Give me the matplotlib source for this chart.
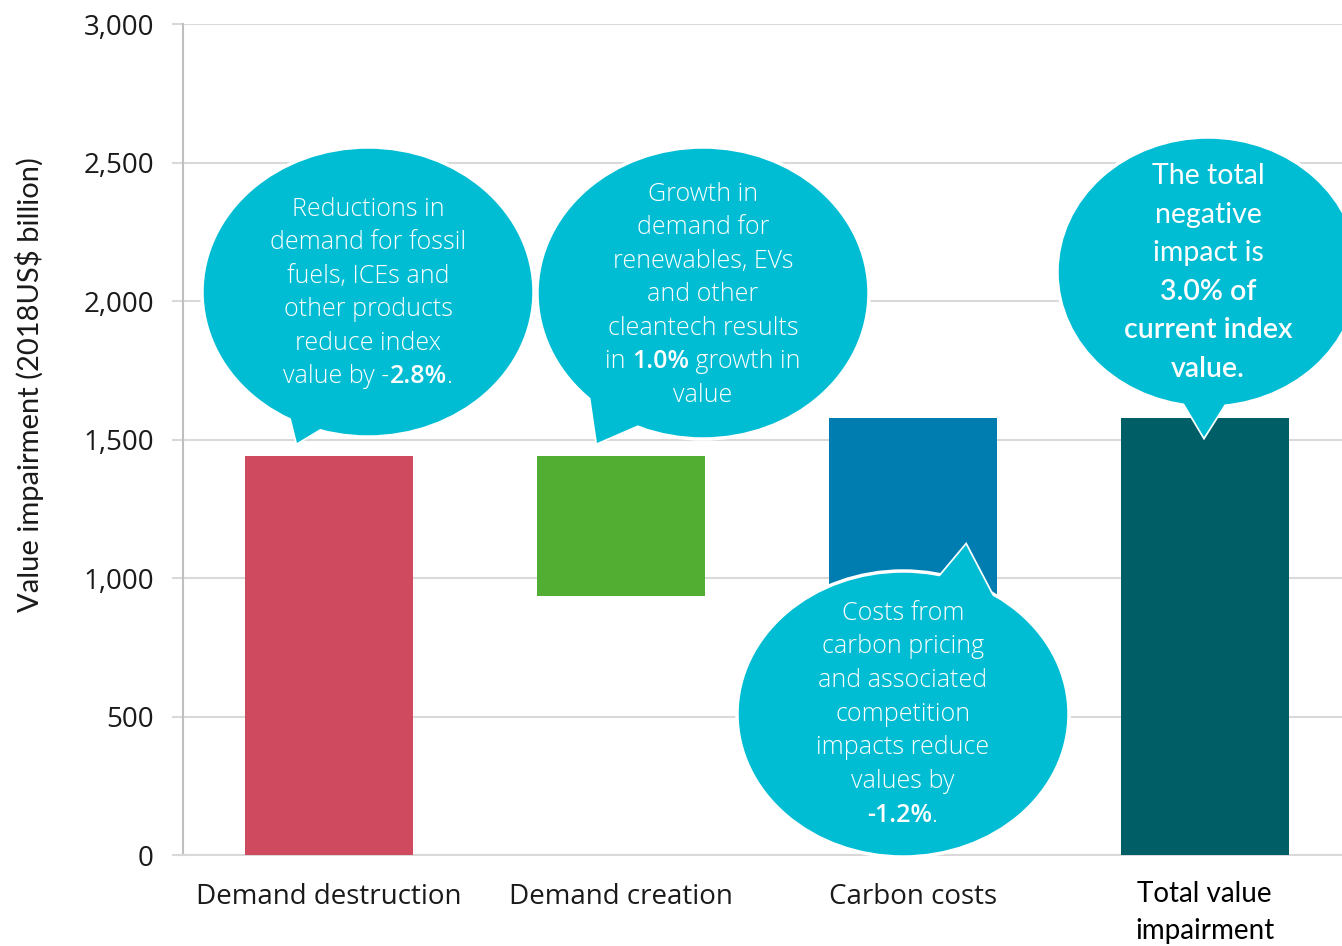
import matplotlib
matplotlib.use("Agg")
import matplotlib.pyplot as plt
from matplotlib.patches import Ellipse, Polygon
from matplotlib.ticker import FuncFormatter

# ── Data ──────────────────────────────────────────────
categories = ["Demand destruction", "Demand creation", "Carbon costs", "Total value\nimpairment"]
bar_bottoms = [0, 935, 935, 0]
bar_tops = [1440, 1440, 1578, 1578]
bar_colors = ["#D04A5F", "#52AE32", "#007DB0", "#005F66"]
y_ticks = [0, 500, 1000, 1500, 2000, 2500, 3000]

BUBBLE = "#00BDD4"
FIG_W, FIG_H = 1342, 946

fig = plt.figure(figsize=(FIG_W / 100, FIG_H / 100), dpi=100)
ax = fig.add_axes([183 / FIG_W, 1 - 855 / FIG_H, (FIG_W - 183) / FIG_W, (855 - 24) / FIG_H])

x = list(range(len(categories)))
heights = [t - b for t, b in zip(bar_tops, bar_bottoms)]
ax.bar(x, heights, bottom=bar_bottoms, width=0.575, color=bar_colors, zorder=3)

ax.set_xlim(-0.5, 3.47)
ax.set_ylim(0, 3000)
ax.set_yticks(y_ticks)
ax.yaxis.set_major_formatter(FuncFormatter(lambda v, _: f"{v:,.0f}"))
ax.grid(axis="y", color="#D9D9D9", linewidth=1.5, zorder=0)
for s in ["top", "right"]:
    ax.spines[s].set_visible(False)
ax.spines["left"].set_color("#BFBFBF")
ax.spines["left"].set_linewidth(1.5)
ax.spines["bottom"].set_color("#D9D9D9")
ax.spines["bottom"].set_linewidth(1.5)
ax.tick_params(axis="y", length=8, width=1.5, color="#D9D9D9", pad=13,
               labelsize=20, labelcolor="#1a1a1a")
ax.tick_params(axis="x", length=0, pad=0)
ax.set_xticks(x)
ax.set_xticklabels([])
for lab in ax.get_yticklabels():
    lab.set_family("Open Sans")

# category labels under the axis
for i, c in enumerate(categories):
    if "\n" in c:
        ax.annotate(c, xy=(i, 0), xycoords=("data", "axes fraction"), xytext=(0, -19),
                    textcoords="offset points", ha="center", va="top", fontsize=20,
                    family="Lato", color="black", linespacing=1.5, annotation_clip=False)
    else:
        ax.annotate(c, xy=(i, 0), xycoords=("data", "axes fraction"), xytext=(0, -20),
                    textcoords="offset points", ha="center", va="top", fontsize=20,
                    family="Open Sans", color="#1a1a1a", annotation_clip=False)

# y label
fig.text(30 / FIG_W, 1 - 385 / FIG_H, "Value impairment (2018US$ billion)", rotation=90,
         ha="center", va="center", fontsize=21, family="Lato", color="#1a1a1a")

# ── Bubbles overlay in pixel coords ─────────────────────
ov = fig.add_axes([0, 0, 1, 1], zorder=5)
ov.set_xlim(0, FIG_W)
ov.set_ylim(FIG_H, 0)
ov.axis("off")
ov.patch.set_alpha(0)


def bubble(cx, cy, w, h, tail):
    ov.add_patch(Polygon(tail, closed=True, fc=BUBBLE, ec="white", lw=2.5, zorder=1))
    ov.add_patch(Ellipse((cx, cy), w, h, fc=BUBBLE, ec="white", lw=2.5, zorder=2))
    ov.add_patch(Polygon(tail, closed=True, fc=BUBBLE, ec="none", lw=0, zorder=3))


bubble(368, 292, 332, 290, [(285, 395), (335, 420), (297, 443)])
bubble(703, 293, 332, 292, [(590, 395), (650, 420), (597, 443)])
bubble(903, 714, 332, 286, [(920, 600), (1000, 610), (966, 545)])
bubble(1208, 272, 302, 270, [(1170, 380), (1240, 380), (1204, 437)])

renderer = fig.canvas.get_renderer()


def line(xc, y, parts, size, family="Open Sans", light=True):
    texts = []
    for s, bold in parts:
        w = "semibold" if bold else ("light" if light else "normal")
        t = ov.text(0, y, s, fontsize=size, fontweight=w,
                    color="white", va="center", ha="left", family=family, zorder=10)
        texts.append(t)
    widths = [t.get_window_extent(renderer).width for t in texts]
    xs = xc - sum(widths) / 2
    for t, w in zip(texts, widths):
        t.set_x(xs)
        xs += w


b1 = [[("Reductions in", 0)], [("demand for fossil", 0)], [("fuels, ICEs and", 0)],
      [("other products", 0)], [("reduce index", 0)],
      [("value by -", 0), ("2.8%", 1), (".", 0)]]
for k, p in enumerate(b1):
    line(368, 209 + k * 33.5, p, 18)

b2 = [[("Growth in", 0)], [("demand for", 0)], [("renewables, EVs", 0)], [("and other", 0)],
      [("cleantech results", 0)], [("in ", 0), ("1.0%", 1), (" growth in", 0)], [("value", 0)]]
for k, p in enumerate(b2):
    line(703, 194 + k * 33.5, p, 18)

b3 = [[("Costs from", 0)], [("carbon pricing", 0)], [("and associated", 0)], [("competition", 0)],
      [("impacts reduce", 0)], [("values by", 0)], [("-1.2%", 1), (".", 0)]]
for k, p in enumerate(b3):
    line(903, 613 + k * 33.7, p, 18)

b4 = [[("The total", 0)], [("negative", 0)], [("impact is", 0)], [("3.0% of", 1)],
      [("current index", 1)], [("value.", 1)]]
for k, p in enumerate(b4):
    line(1208, 176 + k * 38.5, p, 20.5, family="Lato", light=False)

fig.savefig("out.png", dpi=100, facecolor="white")
